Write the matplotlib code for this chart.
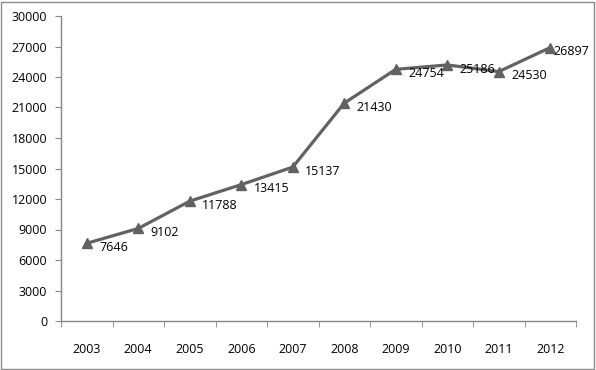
import numpy as np
import matplotlib.pyplot as plt
from matplotlib.patches import Rectangle

years = ['2003', '2004', '2005', '2006', '2007', '2008', '2009', '2010', '2011', '2012']
values = [7646, 9102, 11788, 13415, 15137, 21430, 24754, 25186, 24530, 26897]

plt.rcParams['font.family'] = ['Open Sans', 'DejaVu Sans']

fig = plt.figure(figsize=(5.96, 3.70), dpi=100)
ax = fig.add_axes([61 / 596, 1 - 321 / 370, 515 / 596, 305 / 370])

x = np.arange(len(years))
line_col = '#626262'
ax.plot(x, values, color=line_col, lw=2.3, marker='^', ms=7.5,
        mec=line_col, mfc=line_col, clip_on=False, zorder=3)

for i, v in enumerate(values):
    dx = 9 if i < len(values) - 1 else 2
    ax.annotate(str(v), (x[i], v), xytext=(dx, -3), textcoords='offset points',
                ha='left', va='center', fontsize=9, color='black')

ax.set_xlim(-0.5, len(years) - 0.5)
ax.set_ylim(0, 30000)
ax.set_yticks(np.arange(0, 30001, 3000))
ax.set_xticks(x)
ax.set_xticklabels(years)
ax.set_xticks(np.arange(-0.5, len(years), 1), minor=True)
ax.tick_params(axis='x', which='major', length=0, pad=16, labelsize=9)
ax.tick_params(axis='x', which='minor', length=4, color='#868686', direction='out')
ax.tick_params(axis='y', length=4, color='#868686', labelsize=9, pad=6)

for s in ['top', 'right']:
    ax.spines[s].set_visible(False)
for s in ['left', 'bottom']:
    ax.spines[s].set_color('#868686')
    ax.spines[s].set_linewidth(1)

fig.patches.append(Rectangle((1 / 596, 1 / 370), 593 / 596, 367 / 370,
                             transform=fig.transFigure, fill=False,
                             edgecolor='#8c8c8c', lw=1))

fig.savefig('out.png', dpi=100)
